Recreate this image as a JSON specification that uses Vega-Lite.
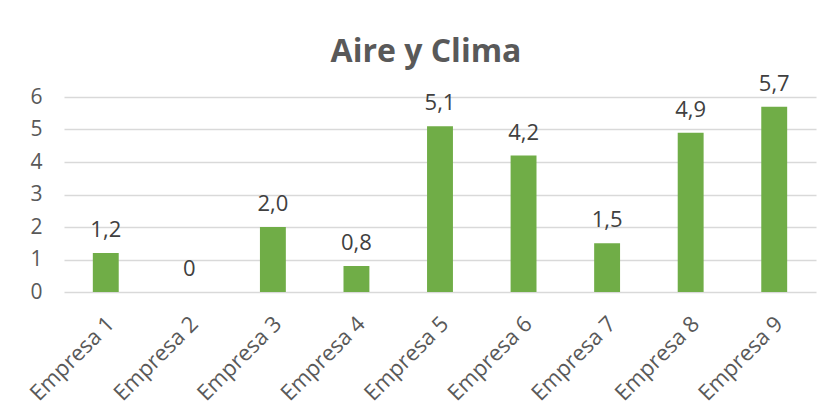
{
  "$schema": "https://vega.github.io/schema/vega-lite/v6.json",
  "width": 752,
  "height": 195,
  "autosize": {"type": "none"},
  "padding": {"left": 64, "top": 97, "right": 18, "bottom": 117},
  "background": "#ffffff",
  "title": {
    "text": "Aire y Clima",
    "font": "Open Sans",
    "fontSize": 32,
    "fontWeight": "bold",
    "color": "#595959",
    "anchor": "middle",
    "dx": -14,
    "offset": 4
  },
  "data": {
    "values": [
      {"empresa": "Empresa 1", "valor": 1.2, "etiqueta": "1,2"},
      {"empresa": "Empresa 2", "valor": 0, "etiqueta": "0"},
      {"empresa": "Empresa 3", "valor": 2.0, "etiqueta": "2,0"},
      {"empresa": "Empresa 4", "valor": 0.8, "etiqueta": "0,8"},
      {"empresa": "Empresa 5", "valor": 5.1, "etiqueta": "5,1"},
      {"empresa": "Empresa 6", "valor": 4.2, "etiqueta": "4,2"},
      {"empresa": "Empresa 7", "valor": 1.5, "etiqueta": "1,5"},
      {"empresa": "Empresa 8", "valor": 4.9, "etiqueta": "4,9"},
      {"empresa": "Empresa 9", "valor": 5.7, "etiqueta": "5,7"}
    ]
  },
  "encoding": {
    "x": {
      "field": "empresa",
      "type": "nominal",
      "sort": null,
      "scale": {"paddingInner": 0.69, "paddingOuter": 0.345},
      "axis": {
        "title": null,
        "labelAngle": -45,
        "labelAlign": "right",
        "labelBaseline": "middle",
        "labelPadding": 28,
        "labelOffset": 5,
        "labelFont": "Open Sans",
        "labelFontSize": 22,
        "labelColor": "#595959",
        "ticks": false,
        "domain": false,
        "grid": false
      }
    },
    "y": {
      "field": "valor",
      "type": "quantitative",
      "scale": {"domain": [0, 6], "nice": false},
      "axis": {
        "title": null,
        "values": [0, 1, 2, 3, 4, 5, 6],
        "labelFont": "Open Sans",
        "labelFontSize": 21,
        "labelColor": "#595959",
        "labelPadding": 22,
        "ticks": false,
        "domain": false,
        "grid": true,
        "gridColor": "#D9D9D9",
        "gridWidth": 1.3
      }
    }
  },
  "layer": [
    {"mark": {"type": "bar", "color": "#70AD47"}},
    {
      "mark": {
        "type": "text",
        "baseline": "alphabetic",
        "dy": -16,
        "font": "Open Sans",
        "fontSize": 22,
        "color": "#404040"
      },
      "encoding": {"text": {"field": "etiqueta", "type": "nominal"}}
    }
  ],
  "config": {"view": {"stroke": null}}
}
